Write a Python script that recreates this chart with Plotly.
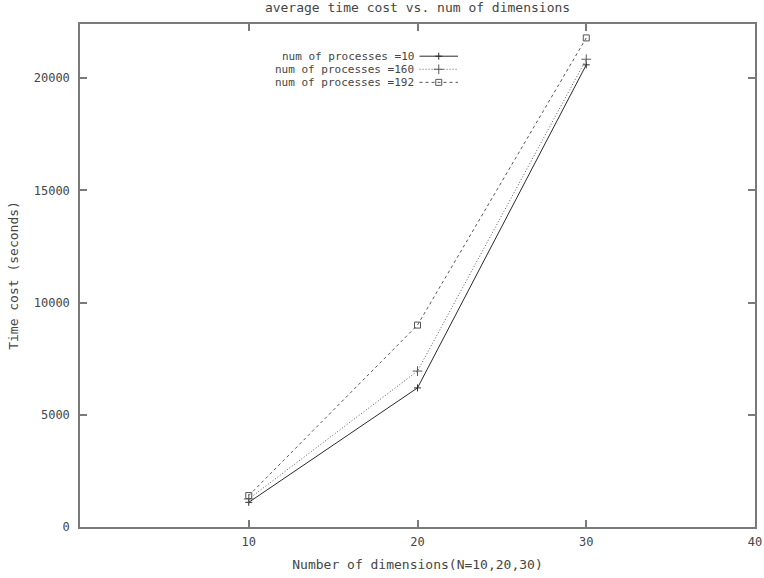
import plotly.graph_objects as go

# Problem sizes (number of dimensions) and average run times in seconds
dimensions = [10, 20, 30]
time_p10 = [1100, 6200, 20600]
time_p160 = [1250, 6950, 20850]
time_p192 = [1400, 9000, 21800]

series_names = ["num of processes =10", "num of processes =160", "num of processes =192"]

x_ticks = [10, 20, 30, 40]
y_ticks = [0, 5000, 10000, 15000, 20000]

FONT = "DejaVu Sans Mono"
TEXT = "#454545"
AXIS = "#7a7a7a"

styles = [
    dict(dash="solid", color="#2a2a2a", symbol="cross-thin-open", size=5),
    dict(dash="1px,2px", color="#5a5a5a", symbol="cross-thin-open", size=7),
    dict(dash="3px,3px", color="#555555", symbol="square-open", size=6),
]

fig = go.Figure()
for name, ys, st in zip(series_names, [time_p10, time_p160, time_p192], styles):
    fig.add_trace(go.Scatter(
        x=dimensions, y=ys, mode="lines+markers", name=name,
        line=dict(color=st["color"], width=1, dash=st["dash"]),
        marker=dict(symbol=st["symbol"], size=st["size"], color=st["color"],
                    line=dict(color=st["color"], width=1)),
        showlegend=False,
    ))

# Key in the upper-left corner: right-aligned label followed by a line sample
key_x_text = 0.497
key_x0, key_x1 = 0.503, 0.560
key_rows = [0.936, 0.910, 0.884]
for name, st, yk in zip(series_names, styles, key_rows):
    fig.add_annotation(x=key_x_text, y=yk, xref="paper", yref="paper",
                       text=name, showarrow=False, xanchor="right", yanchor="middle",
                       borderpad=0, font=dict(family=FONT, size=11, color=TEXT))
    fig.add_shape(type="line", xref="paper", yref="paper",
                  x0=key_x0, x1=key_x1, y0=yk, y1=yk,
                  line=dict(color=st["color"], width=1, dash=st["dash"]))
    fig.add_trace(go.Scatter(
        x=[(key_x0 + key_x1) / 2], y=[yk], xaxis="x2", yaxis="y2",
        mode="markers", showlegend=False, hoverinfo="skip",
        marker=dict(symbol=st["symbol"], size=st["size"], color=st["color"],
                    line=dict(color=st["color"], width=1)),
    ))

axis_common = dict(
    showgrid=False, zeroline=False, showline=True, linecolor=AXIS, linewidth=1.5,
    mirror="ticks", ticks="inside", ticklen=7, tickcolor=AXIS, tickwidth=1.5,
    tickfont=dict(family=FONT, size=12, color=TEXT), automargin=False,
)

fig.update_layout(
    width=764, height=578,
    margin=dict(l=80, r=9, t=24, b=51),
    paper_bgcolor="white", plot_bgcolor="white",
    title=dict(text="average time cost vs. num of dimensions", x=0.5465, xanchor="center",
               y=0.988, yanchor="middle",
               font=dict(family=FONT, size=13, color=TEXT)),
    xaxis=dict(range=[0, 40], tickvals=x_ticks, ticktext=[str(v) for v in x_ticks],
               ticklabelstandoff=3,
               title=dict(text="Number of dimensions(N=10,20,30)", standoff=12,
                          font=dict(family=FONT, size=13, color=TEXT)),
               **axis_common),
    yaxis=dict(range=[0, 22420], tickvals=y_ticks, ticktext=[str(v) for v in y_ticks],
               ticklabelstandoff=6,
               title=dict(text="Time cost (seconds)", standoff=12,
                          font=dict(family=FONT, size=13, color=TEXT)),
               **axis_common),
    xaxis2=dict(domain=[0, 1], range=[0, 1], visible=False, overlaying="x"),
    yaxis2=dict(domain=[0, 1], range=[0, 1], visible=False, overlaying="y"),
)

fig.write_html("out.html")
